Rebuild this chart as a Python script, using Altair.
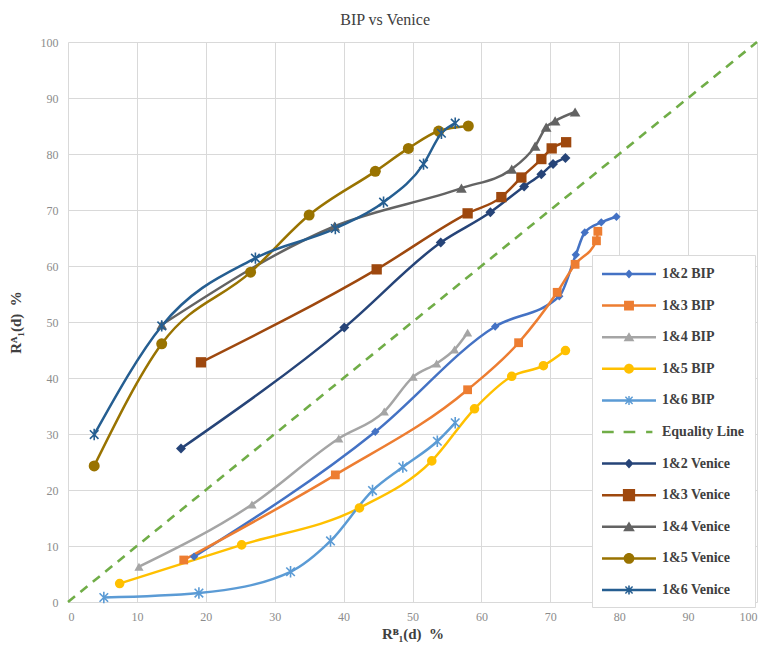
import altair as alt
import pandas as pd

# ---------------- data ----------------
series_names = ["1&2 BIP", "1&3 BIP", "1&4 BIP", "1&5 BIP", "1&6 BIP", "Equality Line",
                "1&2 Venice", "1&3 Venice", "1&4 Venice", "1&5 Venice", "1&6 Venice"]
series_colors = ["#4472C4", "#ED7D31", "#A5A5A5", "#FFC000", "#5B9BD5", "#70AD47",
                 "#264478", "#9E480E", "#636363", "#997300", "#255E91"]

bip12_x = [18.3, 44.6, 62.0, 71.3, 73.7, 75.0, 77.4, 79.6]
bip12_y = [8.1, 30.4, 49.2, 54.6, 62.0, 66.0, 67.8, 68.8]
bip13_x = [16.8, 38.8, 58.0, 65.4, 71.0, 73.6, 76.7, 76.9]
bip13_y = [7.5, 22.7, 37.9, 46.3, 55.3, 60.3, 64.5, 66.2]
bip14_x = [10.3, 26.7, 39.3, 45.9, 50.1, 53.5, 56.1, 58.0]
bip14_y = [6.3, 17.4, 29.2, 34.0, 40.2, 42.6, 45.1, 48.1]
bip15_x = [7.5, 25.2, 42.3, 52.8, 59.0, 64.4, 69.0, 72.2]
bip15_y = [3.3, 10.2, 16.8, 25.2, 34.5, 40.3, 42.2, 44.9]
bip16_x = [5.2, 19.0, 32.3, 38.1, 44.2, 48.6, 53.6, 56.2]
bip16_y = [0.8, 1.6, 5.4, 10.9, 19.9, 24.1, 28.7, 32.0]

ven12_x = [16.4, 40.1, 54.1, 61.3, 66.2, 68.7, 70.4, 72.2]
ven12_y = [27.4, 49.0, 64.2, 69.6, 74.2, 76.4, 78.2, 79.3]
ven13_x = [19.3, 44.8, 58.0, 62.9, 65.8, 68.7, 70.2, 72.3]
ven13_y = [42.8, 59.4, 69.4, 72.3, 75.8, 79.1, 81.0, 82.1]
ven14_x = [13.6, 38.7, 57.1, 64.4, 67.8, 69.4, 70.7, 73.6]
ven14_y = [49.5, 67.1, 73.9, 77.3, 81.4, 84.8, 85.9, 87.5]
ven15_x = [3.8, 13.6, 26.5, 35.0, 44.6, 49.4, 53.8, 58.1]
ven15_y = [24.3, 46.1, 58.9, 69.1, 76.9, 81.0, 84.1, 85.0]
ven16_x = [3.8, 13.6, 27.2, 38.8, 45.8, 51.6, 54.2, 56.2]
ven16_y = [29.9, 49.3, 61.4, 66.7, 71.4, 78.2, 83.7, 85.5]

equality_x = [0, 100]
equality_y = [0, 100]

x_ticks = list(range(0, 101, 10))
y_ticks = list(range(0, 101, 10))

# ---------------- build table ----------------
series_data = {
    "1&2 BIP": (bip12_x, bip12_y), "1&3 BIP": (bip13_x, bip13_y),
    "1&4 BIP": (bip14_x, bip14_y), "1&5 BIP": (bip15_x, bip15_y),
    "1&6 BIP": (bip16_x, bip16_y),
    "1&2 Venice": (ven12_x, ven12_y), "1&3 Venice": (ven13_x, ven13_y),
    "1&4 Venice": (ven14_x, ven14_y), "1&5 Venice": (ven15_x, ven15_y),
    "1&6 Venice": (ven16_x, ven16_y),
}
rows = []
for name, (xs_, ys_) in series_data.items():
    for i, (xv, yv) in enumerate(zip(xs_, ys_)):
        rows.append({"series": name, "x": xv, "y": yv, "order": i})
df = pd.DataFrame(rows)
eq_df = pd.DataFrame({"x": equality_x, "y": equality_y})

curve_names = [n for n in series_names if n != "Equality Line"]
curve_colors = [c for n, c in zip(series_names, series_colors) if n != "Equality Line"]
filled_names = [n for n in curve_names if not n.startswith("1&6")]
filled_colors = [c for n, c in zip(curve_names, curve_colors) if not n.startswith("1&6")]
star_names = [n for n in curve_names if n.startswith("1&6")]
star_colors = [c for n, c in zip(curve_names, curve_colors) if n.startswith("1&6")]

shape_of = {"1&2": "diamond", "1&3": "square", "1&4": "triangle-up", "1&5": "circle"}
filled_shapes = [shape_of[n[:3]] for n in filled_names]
size_of = {"1&2 BIP": 70, "1&3 BIP": 121, "1&4 BIP": 140, "1&5 BIP": 150,
           "1&2 Venice": 90, "1&3 Venice": 200, "1&4 Venice": 170, "1&5 Venice": 200}
filled_sizes = [size_of[n] for n in filled_names]

STAR = "M0,-1V1M-0.75,-0.75L0.75,0.75M0.75,-0.75L-0.75,0.75"

# legend symbols: line + marker, drawn as filled paths (unit = 9px)
LINE = "M-1,-0.14H5V0.14H-1Z"
def sq(h):
    return f"M{2-h},{-h}H{2+h}V{h}H{2-h}Z"
leg_marker = {
    "1&2 BIP": "M2,-0.5L2.45,0L2,0.5L1.55,0Z",
    "1&3 BIP": sq(0.55),
    "1&4 BIP": "M2,-0.55L2.6,0.45H1.4Z",
    "1&5 BIP": "M1.45,0A0.55,0.55 0 1,1 2.55,0A0.55,0.55 0 1,1 1.45,0Z",
    "1&6 BIP": ("M1.92,-0.5H2.08V0.5H1.92Z"
                "M1.543,-0.343L1.657,-0.457L2.457,0.343L2.343,0.457Z"
                "M2.343,-0.457L2.457,-0.343L1.657,0.457L1.543,0.343Z"),
    "1&2 Venice": "M2,-0.55L2.5,0L2,0.55L1.5,0Z",
    "1&3 Venice": sq(0.68),
    "1&4 Venice": "M2,-0.6L2.65,0.5H1.35Z",
    "1&5 Venice": "M1.4,0A0.6,0.6 0 1,1 2.6,0A0.6,0.6 0 1,1 1.4,0Z",
    "1&6 Venice": ("M1.91,-0.5H2.09V0.5H1.91Z"
                   "M1.543,-0.343L1.657,-0.457L2.457,0.343L2.343,0.457Z"
                   "M2.343,-0.457L2.457,-0.343L1.657,0.457L1.543,0.343Z"),
}
legend_paths = []
for n in series_names:
    if n == "Equality Line":
        legend_paths.append("M-1,-0.13H0.3V0.13H-1Z M1.4,-0.13H2.7V0.13H1.4Z M3.9,-0.13H4.6V0.13H3.9Z")
    else:
        legend_paths.append(LINE + " " + leg_marker[n])

FONT = "Liberation Serif"
xs = alt.Scale(domain=[0, 100], nice=False, zero=False)
ys = alt.Scale(domain=[0, 100], nice=False, zero=False)

x_axis = alt.Axis(values=x_ticks, title="R\u1d2e\u2081(d)\u00a0\u00a0%", format="d")
y_axis = alt.Axis(values=y_ticks, title="R\u1d2c\u2081(d)\u00a0\u00a0%", format="d")

eq_layer = alt.Chart(eq_df).mark_line(color="#70AD47", strokeWidth=2.6, strokeDash=[9, 7]).encode(
    x=alt.X("x:Q", scale=xs, axis=x_axis),
    y=alt.Y("y:Q", scale=ys, axis=y_axis),
)

lines = alt.Chart(df).mark_line(strokeWidth=2.5, interpolate="monotone").encode(
    x=alt.X("x:Q", scale=xs),
    y=alt.Y("y:Q", scale=ys),
    color=alt.Color("series:N", scale=alt.Scale(domain=curve_names, range=curve_colors), legend=None),
    detail="series:N",
    order="order:Q",
)

pts = alt.Chart(df).transform_filter(
    alt.FieldOneOfPredicate(field="series", oneOf=filled_names)
).mark_point(filled=True, opacity=1).encode(
    x=alt.X("x:Q", scale=xs),
    y=alt.Y("y:Q", scale=ys),
    color=alt.Color("series:N", scale=alt.Scale(domain=filled_names, range=filled_colors), legend=None),
    shape=alt.Shape("series:N", scale=alt.Scale(domain=filled_names, range=filled_shapes), legend=None),
    size=alt.Size("series:N", scale=alt.Scale(domain=filled_names, range=filled_sizes), legend=None),
)

stars = alt.Chart(df).transform_filter(
    alt.FieldOneOfPredicate(field="series", oneOf=star_names)
).mark_point(filled=False, shape=STAR, size=130, strokeWidth=1.6, opacity=1).encode(
    x=alt.X("x:Q", scale=xs),
    y=alt.Y("y:Q", scale=ys),
    color=alt.Color("series:N", scale=alt.Scale(domain=star_names, range=star_colors), legend=None),
)

leg = alt.Legend(
    title=None, orient="none", legendX=524, legendY=213,
    symbolSize=324, labelOffset=42, rowPadding=15.6, padding=10,
    fillColor="white", strokeColor="#d9d9d9",
    labelFont=FONT, labelFontSize=14, labelFontWeight="bold", labelColor="#404040",
    symbolStrokeWidth=0, symbolOpacity=1, labelLimit=200,
)
legend_layer = alt.Chart(df).transform_filter("false").mark_point(filled=True).encode(
    x=alt.X("x:Q", scale=xs),
    y=alt.Y("y:Q", scale=ys),
    color=alt.Color("series:N", scale=alt.Scale(domain=series_names, range=series_colors), legend=leg),
    shape=alt.Shape("series:N", scale=alt.Scale(domain=series_names, range=legend_paths), legend=leg),
)

chart = alt.layer(eq_layer, lines, pts, stars, legend_layer).resolve_scale(
    color="independent", shape="independent", size="independent"
).properties(
    width=689, height=560,
    autosize=alt.AutoSizeParams(type="none"),
    padding={"left": 60, "top": 34, "right": 1, "bottom": 40},
    title=alt.TitleParams("BIP vs Venice", font=FONT, fontSize=16, fontWeight="normal",
                          color="#404040", anchor="middle", frame="bounds", offset=8),
).configure_view(stroke=None).configure_axis(
    grid=True, gridColor="#d9d9d9", gridWidth=1, domain=False, ticks=False,
    labelFont=FONT, labelFontSize=12, labelColor="#8c8c8c",
    titleFont=FONT, titleFontSize=15, titleFontWeight="bold", titleColor="#404040",
).configure_axisY(labelPadding=10, titlePadding=17).configure_axisX(labelPadding=9, titlePadding=4)

chart.save("out.html", embed_options={"renderer": "svg", "actions": False})
